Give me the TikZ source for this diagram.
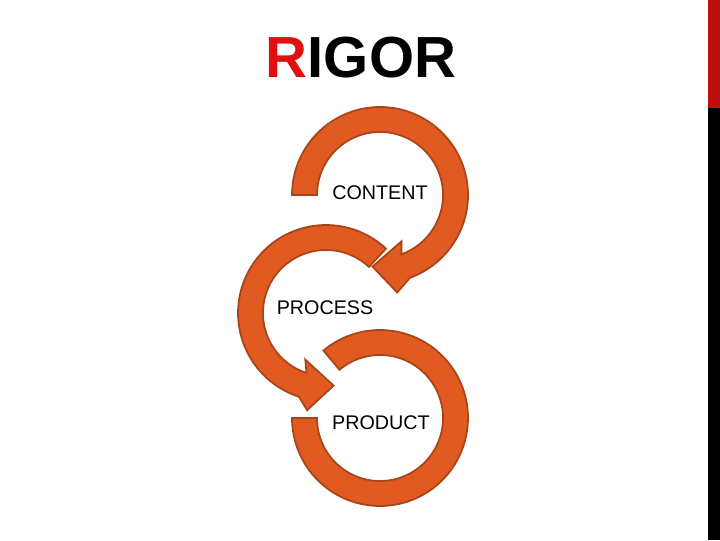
\documentclass[tikz,border=0pt]{standalone}
\usepackage{fontspec}
\setmainfont{Liberation Sans}
\definecolor{arr}{HTML}{E05A22}
\definecolor{arrd}{HTML}{A84418}
\definecolor{tred}{HTML}{E01010}
\begin{document}
\begin{tikzpicture}[x=0.75pt,y=0.75pt,
  carrow/.style={fill=arr,draw=arrd,line width=1.3pt,line join=miter},
  lbl/.style={font=\fontsize{14.8}{17}\selectfont}]
\useasboundingbox (0,0) rectangle (720,540);
\fill[white] (0,0) rectangle (720,540);
\fill[black] (708,0) rectangle (720,432);
\fill[tred!85!black] (708,432) rectangle (720,540);
\node (title) at (361,482) {\fontsize{43.5}{46}\selectfont\bfseries\textcolor{tred}{R}IGOR};
\begin{scope}[shift={(380,345)}]
\draw[carrow] (180:88) arc[start angle=180,end angle=-70,radius=88] -- (-80:99) -- (-96:72) -- (-65:51) -- (-70:63) arc[start angle=-70,end angle=180,radius=63] -- cycle;
\end{scope}
\begin{scope}[shift={(326,227)}]
\draw[carrow] (47:88) arc[start angle=47,end angle=252,radius=88] -- (259:99) -- (276:73) -- (246:51) -- (252:63) arc[start angle=252,end angle=47,radius=63] -- cycle;
\end{scope}
\begin{scope}[shift={(380,122)}]
\draw[carrow] (130:88) arc[start angle=130,end angle=-180,radius=88] -- (180:63) arc[start angle=-180,end angle=130,radius=63] -- cycle;
\end{scope}
\node[lbl] (content) at (380,347) {CONTENT};
\node[lbl] (process) at (325,232) {PROCESS};
\node[lbl] (product) at (381,117) {PRODUCT};
\end{tikzpicture}
\end{document}
